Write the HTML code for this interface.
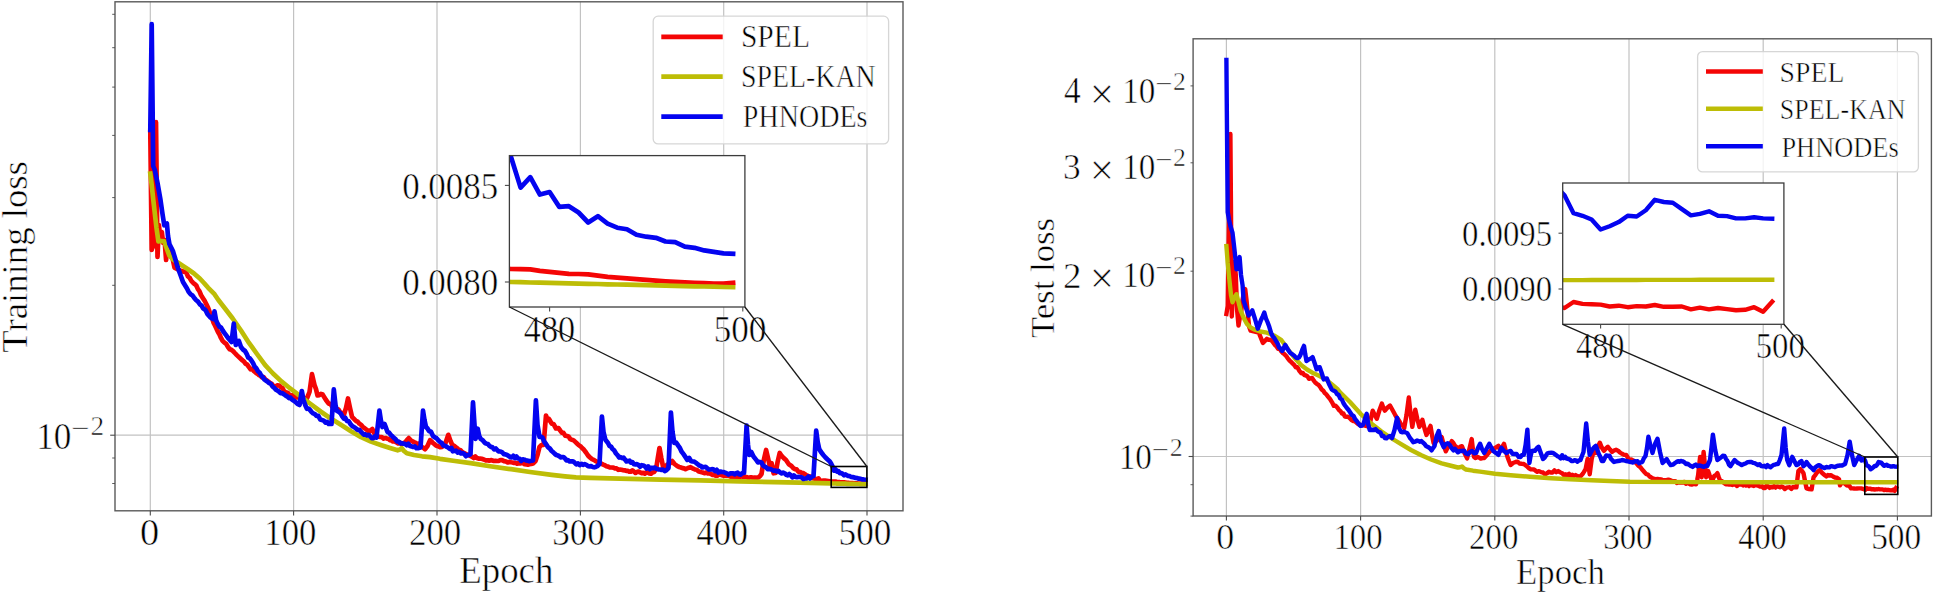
<!DOCTYPE html>
<html lang="en"><head><meta charset="utf-8"><title>Training and test loss</title>
<style>html,body{margin:0;padding:0;background:#fff;}body{width:1933px;height:592px;overflow:hidden;}svg{display:block;}</style>
</head><body>
<svg width="1933" height="592" viewBox="0 0 1933 592" font-family="'Liberation Serif', serif" fill="#000">
<style>text{stroke:#fff;stroke-width:0.55px;paint-order:fill stroke;}</style>
<defs>
<clipPath id="cl"><rect x="115.0" y="1.8" width="788.0" height="509.0"/></clipPath>
<clipPath id="cli"><rect x="509.4" y="155.6" width="235.5" height="151.4"/></clipPath>
<clipPath id="cr"><rect x="1193.1" y="38.8" width="738.3" height="477.2"/></clipPath>
<clipPath id="cri"><rect x="1562.7" y="183.0" width="221.2" height="141.3"/></clipPath>
</defs>
<rect width="1933" height="592" fill="#fff"/>
<line x1="150.3" y1="1.8" x2="150.3" y2="510.8" stroke="#c2c2c2" stroke-width="1.2" />
<line x1="293.6" y1="1.8" x2="293.6" y2="510.8" stroke="#c2c2c2" stroke-width="1.2" />
<line x1="437.0" y1="1.8" x2="437.0" y2="510.8" stroke="#c2c2c2" stroke-width="1.2" />
<line x1="580.4" y1="1.8" x2="580.4" y2="510.8" stroke="#c2c2c2" stroke-width="1.2" />
<line x1="723.7" y1="1.8" x2="723.7" y2="510.8" stroke="#c2c2c2" stroke-width="1.2" />
<line x1="867.0" y1="1.8" x2="867.0" y2="510.8" stroke="#c2c2c2" stroke-width="1.2" />
<line x1="115.0" y1="435.2" x2="903.0" y2="435.2" stroke="#c2c2c2" stroke-width="1.2" />
<polyline points="150.3,132.0 151.7,250.0 153.2,244.0 154.6,246.0 156.0,122.2 157.5,257.0 158.9,225.0 160.3,238.0 161.8,232.0 163.2,243.0 164.6,240.0 166.1,260.0 167.5,243.0 168.9,246.0 170.4,250.0 172.5,258.0 174.5,267.6 180.0,270.5 186.3,272.6 188.0,276.5 189.7,277.8 191.4,281.0 193.0,282.7 194.7,284.1 196.3,285.5 197.9,289.1 199.4,291.1 201.0,295.0 202.8,297.9 204.6,300.8 206.4,304.3 208.2,308.1 210.0,313.0 211.8,317.3 213.5,322.6 215.0,325.5 216.5,328.7 218.0,332.0 219.5,334.5 221.1,338.2 222.6,340.9 224.4,342.6 226.2,343.9 228.0,347.0 229.7,349.2 231.4,349.8 233.1,351.1 234.8,353.0 236.6,354.9 238.4,356.6 240.2,358.3 242.0,360.0 243.8,361.3 245.5,363.7 247.2,364.6 249.0,367.2 250.6,369.3 252.2,369.0 253.8,370.9 255.4,372.3 257.0,373.5 258.6,374.8 260.3,375.7 261.9,377.3 263.6,377.1 265.2,379.4 266.8,380.5 268.4,381.6 270.0,383.0 271.8,383.9 273.5,386.1 275.3,386.5 277.4,385.4 279.4,385.5 280.9,387.2 282.5,388.1 284.0,391.0 285.8,392.4 287.7,392.7 289.5,395.0 292.2,395.5 293.8,395.1 295.3,397.6 296.9,397.3 298.4,397.4 300.0,398.0 301.6,398.4 303.2,397.9 304.8,398.5 306.4,399.6 307.9,396.0 309.5,392.0 312.0,374.2 314.5,385.0 316.0,389.1 317.5,395.5 319.2,395.2 320.9,393.8 322.6,394.5 324.3,397.2 326.0,400.0 328.7,403.6 330.5,404.0 332.2,406.8 334.0,407.0 335.5,408.7 337.0,409.1 338.5,409.6 340.0,412.0 341.9,412.9 343.9,414.8 346.0,408.0 348.0,398.5 350.0,408.0 352.0,416.8 354.0,418.8 356.0,421.0 357.7,421.7 359.4,423.7 361.1,424.9 363.1,427.2 365.0,428.5 367.1,430.1 369.2,432.0 370.8,430.2 372.3,429.0 373.8,432.4 375.3,435.0 376.9,435.4 378.4,436.7 380.0,437.0 381.8,437.1 383.7,438.6 385.5,438.1 387.0,438.6 388.5,438.8 390.0,440.1 391.5,440.4 393.0,441.5 394.7,441.4 396.5,442.4 398.2,443.5 400.0,442.6 401.7,444.2 403.6,443.0 405.5,442.0 407.1,439.9 408.8,438.1 411.0,440.5 413.9,442.1 415.4,442.7 416.9,444.0 418.5,443.6 420.0,445.2 421.7,446.8 423.3,447.7 425.0,449.2 427.5,446.0 430.1,440.1 433.0,443.0 434.5,444.2 436.0,445.5 438.0,446.2 440.0,447.2 442.2,446.9 443.9,444.7 445.5,443.0 448.3,434.8 450.5,441.0 452.3,444.9 454.1,445.8 456.0,447.5 457.5,448.5 458.9,450.3 460.4,450.0 461.9,451.7 463.5,452.7 465.0,453.5 466.9,454.6 468.7,454.9 470.6,456.1 472.2,456.8 473.7,458.0 475.3,456.5 476.9,458.1 478.4,458.6 480.0,458.5 481.6,458.8 483.1,459.3 484.7,459.9 486.2,460.5 487.8,460.3 489.3,460.7 490.9,460.1 492.4,460.5 493.9,461.0 495.5,460.8 497.0,461.0 498.7,460.8 500.3,460.1 502.0,460.1 504.0,461.1 506.0,461.5 507.7,462.5 509.4,461.8 511.1,462.2 512.6,462.5 514.1,462.9 515.5,462.8 517.0,463.6 518.5,463.4 520.0,463.5 521.6,462.9 523.1,463.1 524.7,464.2 526.3,464.3 527.8,464.7 529.4,464.2 531.2,464.0 533.0,463.5 535.5,461.1 537.5,455.0 539.5,446.9 541.5,445.0 543.6,444.9 544.8,430.0 546.0,415.5 547.5,420.0 549.0,419.0 551.7,423.6 553.5,424.0 556.0,428.5 558.5,428.0 560.1,430.4 561.8,432.7 563.5,432.9 565.3,435.7 567.0,436.0 568.7,436.7 570.3,439.1 572.0,439.8 573.7,440.4 575.3,441.9 577.0,443.5 578.7,445.1 580.4,446.2 582.1,448.0 584.0,449.8 586.0,452.5 588.0,455.5 590.0,457.5 592.1,459.2 594.2,460.1 596.1,461.4 598.1,462.2 600.0,463.5 601.6,463.7 603.2,464.6 604.8,465.2 606.4,466.2 608.1,466.6 609.8,467.5 611.6,467.5 613.3,467.6 615.0,468.5 616.6,468.4 618.2,469.8 619.8,469.5 621.4,469.8 623.0,470.1 624.6,470.3 626.1,470.8 627.7,470.8 629.2,471.6 630.8,471.6 632.4,470.3 633.9,471.5 635.5,472.9 637.0,472.0 638.6,471.5 640.1,472.4 641.7,473.2 643.2,472.8 644.8,473.7 646.3,472.4 647.9,472.6 649.4,473.4 651.0,473.7 652.5,472.4 654.0,472.0 656.1,469.2 657.8,458.0 659.5,448.0 661.3,458.0 663.2,467.2 666.0,466.0 667.5,464.4 669.0,464.0 670.6,462.9 672.3,461.1 674.5,464.0 677.4,466.2 679.2,467.0 681.0,467.5 682.5,468.1 684.0,468.4 685.5,469.2 688.0,468.0 690.5,467.2 692.0,468.1 693.5,468.7 695.0,469.5 696.7,469.8 698.4,471.2 700.0,471.8 701.7,472.3 703.2,472.6 704.8,473.2 706.4,472.5 707.9,473.4 709.5,473.4 711.0,474.0 712.6,474.9 714.1,474.7 715.7,475.7 717.3,475.6 718.9,474.7 720.4,474.5 722.0,475.3 723.7,475.8 725.3,475.5 727.0,475.8 728.7,475.5 730.3,476.6 732.0,476.5 733.6,476.7 735.2,476.9 736.8,477.0 738.4,476.4 740.0,477.0 741.7,476.0 743.3,477.0 745.0,476.9 746.7,477.0 748.3,477.9 750.0,477.4 751.7,477.3 753.4,478.2 755.0,477.5 756.7,477.8 758.4,477.4 760.0,476.0 761.5,474.0 763.8,460.0 766.1,450.0 768.0,458.0 769.6,465.2 771.6,463.2 773.6,473.3 775.6,473.0 777.6,462.0 779.7,453.0 781.7,456.0 783.8,458.1 786.0,460.0 788.8,464.2 791.5,466.0 793.2,468.0 794.9,469.2 796.6,469.4 798.3,471.7 800.0,472.0 801.7,472.8 803.3,473.0 805.0,474.3 806.7,475.4 808.3,476.0 810.0,476.5 811.7,478.0 813.5,478.4 815.2,478.8 816.8,479.3 818.5,478.5 820.1,480.6 821.7,480.8 823.4,480.6 825.0,480.5 831.2,481.6 832.6,481.7 834.1,481.7 835.5,481.7 836.9,481.9 838.4,482.0 839.8,482.2 841.2,482.3 842.7,482.3 844.1,482.4 845.5,482.6 847.0,482.8 848.4,482.9 849.8,483.0 851.3,483.1 852.7,483.2 854.1,483.3 855.6,483.4 857.0,483.4 858.4,483.5 859.9,483.6 861.3,483.6 862.7,483.7 864.2,483.7 865.6,483.6" fill="none" stroke="#f40505" stroke-width="4.7" stroke-linejoin="round" stroke-linecap="square" clip-path="url(#cl)"/>
<polyline points="150.3,173.5 151.7,185.0 153.3,200.0 155.0,215.0 156.5,228.0 158.4,241.4 161.0,241.0 164.3,241.4 166.5,248.0 169.4,255.7 173.0,259.5 177.8,262.5 183.0,266.0 188.0,269.3 194.0,273.5 199.8,278.5 204.0,283.0 208.2,287.8 214.5,294.2 218.4,300.0 225.0,308.5 232.7,318.5 241.0,330.5 249.0,342.9 257.0,354.0 265.2,365.2 273.0,373.5 281.4,381.4 289.0,387.5 297.6,394.2 300.3,396.0 310.0,403.5 320.6,411.5 330.0,418.0 340.9,424.7 351.0,431.2 361.1,437.2 371.0,441.6 381.4,445.2 390.0,448.0 397.6,450.3 400.0,449.5 401.7,448.2 404.0,451.0 406.8,453.3 414.0,455.0 422.0,456.3 430.0,457.1 440.0,458.8 455.0,461.0 470.6,463.2 490.0,466.3 511.1,469.2 530.0,472.0 551.7,474.9 565.0,476.4 576.0,477.4 590.0,477.9 620.0,478.6 661.1,479.6 700.0,480.4 740.0,481.3 800.0,482.6 831.2,483.4 832.6,483.5 834.1,483.5 835.5,483.5 836.9,483.6 838.4,483.6 839.8,483.6 841.2,483.7 842.7,483.7 844.1,483.7 845.5,483.7 847.0,483.8 848.4,483.8 849.8,483.8 851.3,483.9 852.7,483.9 854.1,483.9 855.6,484.0 857.0,484.0 858.4,484.0 859.9,484.1 861.3,484.1 862.7,484.1 864.2,484.2 865.6,484.2" fill="none" stroke="#bdbd06" stroke-width="4.7" stroke-linejoin="round" stroke-linecap="square" clip-path="url(#cl)"/>
<polyline points="150.3,130.0 151.7,24.2 153.2,166.0 154.8,170.0 157.5,183.0 160.5,200.0 162.5,214.0 164.3,225.3 166.9,223.6 168.0,236.0 169.4,244.0 172.8,250.7 175.0,258.0 177.8,267.6 180.5,275.0 183.0,282.0 187.0,288.5 188.7,291.8 190.5,294.2 192.2,295.2 194.1,297.7 196.0,300.0 198.0,301.6 200.0,304.5 201.5,305.4 203.0,308.2 204.5,309.2 205.9,310.7 207.4,314.0 208.9,315.8 210.4,317.5 213.0,319.0 214.5,311.4 216.0,320.0 217.5,323.6 219.3,326.5 221.2,327.8 223.0,331.0 224.9,333.6 226.8,336.1 228.7,338.8 231.5,342.0 233.8,323.6 235.8,345.0 237.3,341.7 238.8,340.9 241.0,347.0 243.0,349.5 245.0,351.0 246.6,353.7 248.2,357.5 249.8,358.4 251.4,360.5 253.0,363.0 254.6,366.5 256.2,368.1 257.9,371.2 259.5,372.5 261.1,375.3 262.7,377.0 264.3,379.3 265.8,380.5 267.4,381.6 269.0,383.0 270.7,383.6 272.4,386.4 274.0,387.6 275.7,389.6 277.4,390.5 278.9,391.5 280.5,393.1 282.0,393.0 283.8,394.2 285.7,395.6 287.5,396.6 289.0,398.1 290.5,397.6 292.0,399.5 293.8,400.7 295.7,402.1 297.5,404.0 299.5,405.0 301.8,391.0 303.5,400.0 305.4,405.6 306.9,408.8 308.5,408.5 310.0,410.0 311.6,412.0 313.2,413.4 314.9,414.1 316.5,415.8 318.3,415.9 320.2,419.4 322.0,420.0 323.7,420.6 325.4,422.6 327.0,421.8 328.7,423.9 331.5,424.0 333.8,389.4 335.5,405.0 336.8,410.7 338.9,411.9 340.9,413.8 342.4,416.6 343.9,418.6 345.4,418.0 346.9,420.9 348.7,421.3 350.4,423.9 352.2,426.1 354.0,427.0 355.8,428.4 357.6,429.8 359.3,429.9 361.1,432.0 362.6,433.4 364.1,434.7 365.5,434.3 367.0,435.5 368.6,434.9 370.1,436.2 371.7,438.1 373.3,438.1 374.9,436.3 376.5,437.5 379.4,410.7 381.0,421.0 382.4,427.0 384.5,423.9 386.0,427.9 387.5,432.0 389.1,432.7 390.8,434.9 392.4,436.3 394.0,438.0 395.5,439.1 397.1,441.4 398.6,441.5 400.2,443.3 401.7,443.2 403.4,443.6 405.0,443.9 406.7,445.2 408.3,443.7 410.0,446.0 411.6,446.4 413.2,447.0 414.8,446.3 416.4,448.2 418.0,448.2 420.5,447.5 423.0,410.7 424.5,420.0 426.0,427.0 427.5,428.5 429.0,431.0 431.0,431.8 433.0,436.0 434.8,437.3 436.5,438.2 438.2,440.1 440.0,442.0 441.8,443.1 443.5,445.6 445.2,445.8 447.0,447.0 448.5,447.8 449.9,448.9 451.4,447.9 452.8,451.3 454.3,451.0 456.0,450.7 457.6,452.6 459.3,451.9 461.0,453.5 462.6,453.0 464.2,453.9 465.9,456.2 467.5,455.0 469.0,455.1 470.5,454.0 473.0,402.3 474.5,425.0 475.6,438.8 477.7,428.7 479.2,436.0 480.7,438.8 482.9,440.4 485.0,443.0 486.5,443.7 487.9,444.0 489.4,445.9 490.9,446.9 492.5,447.3 494.1,449.4 495.8,448.5 497.4,450.3 499.0,451.5 500.6,451.5 502.2,452.3 503.9,454.2 505.5,454.4 507.1,455.0 508.7,456.0 510.2,457.0 511.8,457.5 513.3,455.8 514.9,458.0 516.4,456.5 518.0,458.5 519.6,458.8 521.3,460.9 522.9,459.4 524.5,459.7 526.1,460.5 527.8,460.7 529.4,461.1 531.2,460.8 533.0,460.5 535.9,400.3 537.5,425.0 539.5,436.8 541.0,436.7 542.6,437.8 544.3,441.8 546.0,444.0 547.9,447.1 549.8,448.5 551.7,451.0 553.2,452.3 554.6,453.6 556.1,454.9 557.5,455.3 559.0,456.0 560.5,457.3 562.0,457.1 563.5,457.1 564.9,458.3 566.4,460.3 567.9,460.1 569.6,461.5 571.3,461.4 573.0,461.3 574.6,462.6 576.3,464.3 578.0,463.5 579.7,465.1 581.4,463.8 583.0,464.8 584.7,464.1 586.4,464.8 588.1,466.2 589.6,466.4 591.1,466.2 592.7,467.0 594.2,467.3 595.7,466.9 597.2,466.2 599.5,464.0 601.9,416.5 603.5,432.0 605.4,439.8 608.0,443.0 609.5,446.1 611.0,446.5 612.5,449.0 614.2,450.3 616.0,453.5 617.5,455.1 619.1,457.6 620.6,457.1 622.1,458.2 623.6,457.7 625.0,459.6 626.5,461.4 628.0,461.0 629.5,460.7 630.9,462.7 632.4,462.1 633.9,464.2 635.3,464.3 636.8,464.2 638.4,464.9 640.1,466.8 641.7,465.2 643.4,465.5 645.0,466.5 646.6,468.4 648.2,466.4 649.8,469.2 651.4,467.8 653.0,468.2 654.8,467.6 656.5,468.8 658.2,469.3 660.0,469.5 661.5,469.9 663.1,469.7 664.7,471.0 666.2,470.3 668.5,468.0 670.9,412.5 672.5,432.0 674.3,442.9 676.3,442.7 678.4,445.9 680.0,448.2 681.5,451.5 683.5,454.1 685.5,457.1 687.3,459.9 689.2,458.0 691.0,461.0 692.6,461.5 694.3,461.6 696.0,462.8 697.6,464.2 699.2,465.4 700.8,465.9 702.4,467.5 704.0,467.0 705.6,466.9 707.1,468.1 708.7,469.3 710.2,469.5 711.8,469.2 713.4,469.4 715.1,471.1 716.7,469.8 718.4,472.6 720.0,471.5 721.7,471.9 723.4,472.0 725.0,472.6 726.7,473.4 728.4,474.5 730.1,473.3 731.6,473.3 733.1,473.3 734.6,474.3 736.1,473.2 737.6,472.7 739.1,474.3 740.7,474.6 742.4,473.1 744.0,473.0 746.6,425.6 748.0,445.0 749.3,455.0 751.3,452.0 753.5,456.5 756.4,460.1 758.0,462.4 759.7,461.9 761.4,462.4 763.0,465.5 764.5,466.5 766.0,467.1 767.6,469.1 769.1,468.9 770.6,469.2 772.2,470.0 773.7,470.8 775.3,470.5 776.9,471.5 778.4,470.8 780.0,472.5 781.6,473.3 783.1,472.6 784.7,473.3 786.2,474.7 787.8,475.3 789.3,474.0 790.9,475.3 792.4,477.3 793.9,475.4 795.5,476.9 797.0,477.2 798.5,476.9 800.0,477.0 801.7,477.4 803.4,479.0 805.0,478.5 806.7,478.3 808.4,476.6 810.1,478.4 811.8,476.6 813.5,476.0 816.2,430.7 817.7,442.0 819.2,449.0 821.0,452.0 823.3,455.0 825.5,457.5 827.6,459.5 829.8,461.5 831.2,463.8 832.6,466.6 834.1,470.6 835.5,469.3 836.9,471.6 838.4,471.2 839.8,473.2 841.2,473.1 842.7,473.9 844.1,475.3 845.5,474.4 847.0,475.4 848.4,476.0 849.8,476.2 851.3,477.0 852.7,477.2 854.1,477.4 855.6,477.9 857.0,478.0 858.4,478.6 859.9,478.7 861.3,479.1 862.7,479.3 864.2,479.5 865.6,479.6" fill="none" stroke="#0404f0" stroke-width="4.7" stroke-linejoin="round" stroke-linecap="square" clip-path="url(#cl)"/>
<rect x="831.2" y="466.5" width="35.7" height="20.9" fill="none" stroke="#000" stroke-width="1.6"/>
<rect x="115.0" y="1.8" width="788.0" height="509.0" fill="none" stroke="#5a5a5a" stroke-width="1.4"/>
<line x1="150.3" y1="510.8" x2="150.3" y2="515.6" stroke="#4a4a4a" stroke-width="1.1" />
<line x1="293.6" y1="510.8" x2="293.6" y2="515.6" stroke="#4a4a4a" stroke-width="1.1" />
<line x1="437.0" y1="510.8" x2="437.0" y2="515.6" stroke="#4a4a4a" stroke-width="1.1" />
<line x1="580.4" y1="510.8" x2="580.4" y2="515.6" stroke="#4a4a4a" stroke-width="1.1" />
<line x1="723.7" y1="510.8" x2="723.7" y2="515.6" stroke="#4a4a4a" stroke-width="1.1" />
<line x1="867.0" y1="510.8" x2="867.0" y2="515.6" stroke="#4a4a4a" stroke-width="1.1" />
<line x1="110.2" y1="435.2" x2="115.0" y2="435.2" stroke="#4a4a4a" stroke-width="1.1" />
<line x1="112.2" y1="483.5" x2="115.0" y2="483.5" stroke="#4a4a4a" stroke-width="0.9" />
<line x1="112.2" y1="458.0" x2="115.0" y2="458.0" stroke="#4a4a4a" stroke-width="0.9" />
<line x1="112.2" y1="285.3" x2="115.0" y2="285.3" stroke="#4a4a4a" stroke-width="0.9" />
<line x1="112.2" y1="197.6" x2="115.0" y2="197.6" stroke="#4a4a4a" stroke-width="0.9" />
<line x1="112.2" y1="135.4" x2="115.0" y2="135.4" stroke="#4a4a4a" stroke-width="0.9" />
<line x1="112.2" y1="87.1" x2="115.0" y2="87.1" stroke="#4a4a4a" stroke-width="0.9" />
<line x1="112.2" y1="47.7" x2="115.0" y2="47.7" stroke="#4a4a4a" stroke-width="0.9" />
<line x1="112.2" y1="14.3" x2="115.0" y2="14.3" stroke="#4a4a4a" stroke-width="0.9" />
<rect x="509.4" y="155.6" width="235.5" height="151.4" fill="#fff"/>
<polyline points="501.3,268.7 511.0,269.0 520.6,269.2 530.3,269.4 539.9,270.8 549.6,271.8 559.3,272.8 568.9,273.8 578.6,274.0 588.2,274.4 597.9,275.7 607.6,276.9 617.2,277.6 626.9,278.4 636.5,279.1 646.2,279.9 655.9,280.7 665.5,281.3 675.2,281.8 684.8,282.3 694.5,282.8 704.2,283.2 713.8,283.7 723.5,283.5 733.1,282.8" fill="none" stroke="#f40505" stroke-width="4.7" stroke-linejoin="round" stroke-linecap="square" clip-path="url(#cli)"/>
<polyline points="501.3,281.8 511.0,282.0 520.6,282.2 530.3,282.5 539.9,282.7 549.6,282.9 559.3,283.1 568.9,283.4 578.6,283.6 588.2,283.8 597.9,284.0 607.6,284.3 617.2,284.5 626.9,284.7 636.5,284.9 646.2,285.2 655.9,285.4 665.5,285.6 675.2,285.8 684.8,286.1 694.5,286.3 704.2,286.5 713.8,286.7 723.5,287.0 733.1,287.2" fill="none" stroke="#bdbd06" stroke-width="4.7" stroke-linejoin="round" stroke-linecap="square" clip-path="url(#cli)"/>
<polyline points="501.3,134.6 511.0,157.0 520.6,187.6 530.3,177.2 539.9,194.6 549.6,192.0 559.3,206.9 568.9,206.2 578.6,212.5 588.2,222.5 597.9,216.2 607.6,223.6 617.2,227.7 626.9,229.2 636.5,234.8 646.2,236.7 655.9,237.8 665.5,241.5 675.2,242.2 684.8,246.7 694.5,247.8 704.2,250.4 713.8,251.9 723.5,253.4 733.1,253.8" fill="none" stroke="#0404f0" stroke-width="4.7" stroke-linejoin="round" stroke-linecap="square" clip-path="url(#cli)"/>
<rect x="509.4" y="155.6" width="235.5" height="151.4" fill="none" stroke="#3c3c3c" stroke-width="1.3"/>
<line x1="549.6" y1="307.0" x2="549.6" y2="311.5" stroke="#4a4a4a" stroke-width="1.1" />
<line x1="742.8" y1="307.0" x2="742.8" y2="311.5" stroke="#4a4a4a" stroke-width="1.1" />
<line x1="504.9" y1="185.4" x2="509.4" y2="185.4" stroke="#4a4a4a" stroke-width="1.1" />
<line x1="504.9" y1="282.0" x2="509.4" y2="282.0" stroke="#4a4a4a" stroke-width="1.1" />
<rect x="653.2" y="16.2" width="235.4" height="127.7" rx="5" ry="5" fill="#fff" fill-opacity="0.8" stroke="#d2d2d2" stroke-opacity="0.9" stroke-width="1.3"/>
<line x1="661.3" y1="36.9" x2="722.7" y2="36.9" stroke="#f40505" stroke-width="4.7" />
<line x1="661.3" y1="76.7" x2="722.7" y2="76.7" stroke="#bdbd06" stroke-width="4.7" />
<line x1="661.3" y1="116.6" x2="722.7" y2="116.6" stroke="#0404f0" stroke-width="4.7" />
<line x1="1226.4" y1="38.8" x2="1226.4" y2="516.0" stroke="#c2c2c2" stroke-width="1.2" />
<line x1="1360.6" y1="38.8" x2="1360.6" y2="516.0" stroke="#c2c2c2" stroke-width="1.2" />
<line x1="1494.8" y1="38.8" x2="1494.8" y2="516.0" stroke="#c2c2c2" stroke-width="1.2" />
<line x1="1629.0" y1="38.8" x2="1629.0" y2="516.0" stroke="#c2c2c2" stroke-width="1.2" />
<line x1="1763.2" y1="38.8" x2="1763.2" y2="516.0" stroke="#c2c2c2" stroke-width="1.2" />
<line x1="1897.4" y1="38.8" x2="1897.4" y2="516.0" stroke="#c2c2c2" stroke-width="1.2" />
<line x1="1193.1" y1="456.5" x2="1931.4" y2="456.5" stroke="#c2c2c2" stroke-width="1.2" />
<polyline points="1226.4,314.0 1227.7,306.0 1229.1,210.0 1230.4,134.0 1231.8,316.5 1233.1,290.0 1234.5,262.0 1235.8,275.0 1237.1,310.0 1238.5,325.6 1239.8,318.0 1241.2,312.0 1242.5,300.0 1243.9,293.0 1245.2,289.0 1246.5,300.0 1247.9,315.0 1249.2,327.0 1250.6,330.7 1258.8,332.7 1262.9,342.9 1264.9,340.9 1266.9,338.8 1268.6,339.9 1270.3,339.8 1272.0,340.9 1273.5,342.9 1275.0,345.0 1276.5,346.3 1278.1,348.9 1279.6,348.6 1281.1,351.0 1282.7,352.9 1284.3,354.1 1286.0,355.8 1287.6,358.1 1289.2,360.1 1290.8,361.7 1292.5,363.3 1294.1,364.8 1295.8,367.4 1297.4,367.2 1299.4,370.9 1301.4,373.3 1302.9,372.9 1304.5,375.2 1306.0,375.5 1307.5,376.4 1309.0,378.8 1310.5,378.4 1312.1,378.0 1313.6,380.4 1315.2,382.5 1316.8,383.8 1318.5,384.9 1320.1,386.9 1321.7,389.5 1323.3,390.8 1324.9,393.2 1326.6,394.7 1328.2,396.9 1329.8,398.7 1332.2,402.6 1333.9,405.9 1335.6,405.7 1337.3,407.5 1339.0,410.0 1340.5,411.2 1342.0,413.6 1343.4,413.5 1344.9,416.6 1346.4,416.8 1348.1,416.8 1349.7,418.1 1351.3,419.9 1353.0,421.0 1354.5,421.1 1356.0,422.1 1357.6,423.7 1359.1,424.7 1360.6,424.9 1362.4,425.4 1364.2,425.4 1366.0,426.0 1367.8,426.5 1369.7,424.9 1371.2,417.0 1372.7,410.7 1374.7,415.0 1376.8,418.8 1379.5,410.0 1381.9,403.6 1383.4,408.0 1384.9,410.7 1387.5,407.5 1390.0,405.6 1392.5,410.0 1395.1,414.8 1396.6,417.4 1398.0,419.1 1399.5,421.5 1401.1,424.6 1402.6,425.1 1404.2,428.0 1406.5,415.0 1408.8,397.5 1410.5,413.0 1412.3,426.9 1413.8,418.0 1415.3,409.7 1417.3,419.0 1419.4,426.9 1420.9,423.5 1422.4,419.8 1424.4,428.0 1426.5,435.0 1428.5,430.0 1430.5,425.9 1432.0,435.0 1433.6,443.2 1435.5,442.1 1437.5,440.0 1439.6,438.5 1441.7,437.1 1443.7,445.0 1445.8,451.3 1447.3,448.2 1448.8,446.0 1450.3,443.8 1451.8,441.1 1453.3,442.9 1454.8,445.5 1456.3,446.9 1457.9,449.2 1460.0,446.9 1462.0,446.2 1464.5,453.0 1467.1,458.4 1469.4,449.0 1471.7,439.1 1473.0,450.0 1474.0,456.9 1475.7,458.1 1477.3,456.9 1479.0,457.5 1480.7,458.6 1482.5,458.1 1484.2,458.0 1487.0,455.0 1488.7,452.7 1490.3,450.9 1492.2,450.2 1494.0,448.5 1495.5,447.8 1496.9,446.8 1498.4,445.8 1500.4,450.9 1502.2,447.0 1504.0,443.8 1505.8,451.0 1507.5,456.9 1509.0,461.0 1510.6,465.0 1513.0,463.0 1515.6,462.0 1517.5,461.6 1519.5,463.5 1521.7,463.8 1523.8,464.0 1526.5,466.0 1528.8,468.1 1530.5,469.3 1532.3,469.4 1534.0,469.5 1535.7,470.8 1537.3,471.8 1539.0,471.1 1541.0,472.1 1543.0,472.5 1545.0,474.4 1547.1,473.2 1548.9,471.8 1550.7,472.5 1552.5,472.5 1554.4,470.4 1556.3,472.2 1558.2,471.1 1560.3,472.4 1562.5,473.5 1564.1,475.4 1565.8,474.3 1567.4,475.2 1569.1,473.8 1570.7,476.6 1572.3,474.7 1574.0,476.0 1575.6,475.0 1577.2,476.0 1578.9,476.7 1580.5,476.2 1583.0,473.5 1585.6,469.1 1587.6,459.0 1589.7,474.2 1591.7,459.0 1593.7,450.9 1595.8,452.9 1597.8,447.0 1599.8,442.7 1601.8,447.5 1603.9,450.9 1605.9,448.5 1607.9,446.8 1610.0,449.5 1612.0,451.9 1614.0,450.5 1616.0,449.8 1618.0,450.7 1620.0,452.5 1622.1,453.8 1624.2,454.9 1626.2,454.9 1628.1,458.0 1629.6,460.1 1631.2,459.4 1632.7,460.3 1634.2,461.0 1637.0,464.0 1638.7,466.0 1640.3,467.1 1641.9,469.2 1643.5,471.0 1645.0,472.8 1646.4,474.2 1648.0,474.6 1649.5,476.5 1651.0,477.3 1652.5,478.2 1654.2,478.8 1655.9,479.6 1657.6,478.9 1659.3,479.3 1661.0,479.5 1662.6,479.9 1664.2,480.2 1665.8,480.1 1667.5,479.8 1669.1,479.8 1670.7,480.3 1672.2,481.5 1673.8,481.1 1675.3,481.1 1676.8,483.0 1678.4,482.4 1679.9,482.6 1681.5,482.3 1683.0,482.5 1684.5,481.9 1685.9,483.8 1687.4,483.0 1688.8,483.3 1690.3,484.3 1691.7,484.5 1693.2,484.1 1694.6,484.1 1696.1,484.3 1697.2,480.0 1698.1,475.2 1699.1,466.0 1700.1,456.9 1700.9,467.0 1701.7,477.2 1702.7,464.0 1703.6,451.9 1704.9,465.0 1706.2,477.2 1707.2,474.0 1708.2,471.1 1709.7,475.5 1711.3,479.2 1712.8,479.2 1714.3,476.0 1715.8,475.1 1717.4,473.2 1718.9,477.5 1720.4,481.3 1722.2,481.3 1724.0,483.0 1725.8,484.3 1727.5,484.3 1729.1,484.5 1730.8,484.4 1732.4,485.0 1734.0,484.5 1735.5,484.6 1737.1,486.0 1738.6,484.5 1740.2,484.5 1741.7,484.3 1743.2,485.4 1744.6,484.2 1746.1,485.6 1747.6,484.9 1749.1,486.1 1750.5,484.6 1752.0,485.5 1753.7,486.0 1755.3,484.5 1757.0,485.5 1758.7,486.0 1760.3,486.6 1762.0,486.3 1763.5,488.0 1765.0,488.0 1766.5,485.6 1768.0,486.2 1769.5,487.9 1771.0,487.0 1772.5,487.4 1774.0,486.0 1775.5,487.6 1777.0,486.4 1778.5,486.6 1780.0,487.4 1781.6,486.4 1783.2,487.2 1784.8,489.0 1786.4,487.7 1788.0,487.4 1789.7,487.3 1791.4,489.0 1793.0,487.0 1794.7,487.3 1796.4,487.4 1797.4,479.0 1798.4,471.1 1800.4,469.1 1802.0,470.9 1803.5,473.2 1805.0,481.0 1806.5,488.4 1809.0,489.0 1811.6,489.4 1812.6,483.0 1813.6,477.2 1815.1,475.4 1816.6,473.0 1818.2,471.3 1819.7,470.1 1822.2,473.0 1824.8,475.2 1826.3,476.4 1827.8,475.0 1829.4,475.6 1830.9,475.2 1833.0,476.5 1835.0,477.5 1837.0,477.7 1839.0,479.2 1840.0,485.3 1841.5,483.0 1843.0,482.3 1845.0,483.9 1847.0,485.5 1849.0,485.3 1851.1,488.4 1852.6,488.4 1854.0,488.5 1855.5,488.6 1857.0,488.5 1859.0,488.4 1861.0,488.4 1863.9,489.2 1865.2,489.8 1866.5,488.1 1867.9,488.7 1869.2,488.7 1870.6,488.8 1871.9,489.4 1873.2,489.1 1874.6,489.6 1875.9,489.3 1877.3,489.4 1878.6,489.0 1880.0,489.4 1881.3,489.4 1882.6,489.4 1884.0,490.1 1885.3,489.7 1886.7,490.1 1888.0,489.8 1889.3,490.1 1890.7,490.4 1892.0,490.3 1893.4,489.6 1894.7,490.8 1896.1,488.0" fill="none" stroke="#f40505" stroke-width="4.4" stroke-linejoin="round" stroke-linecap="square" clip-path="url(#cr)"/>
<polyline points="1226.4,246.0 1227.7,263.0 1229.4,280.0 1231.0,295.0 1232.5,302.3 1234.5,297.5 1236.5,294.2 1238.5,302.0 1240.6,310.4 1243.5,317.5 1246.7,323.6 1250.5,327.5 1254.8,329.7 1260.0,331.5 1266.9,332.7 1274.0,335.5 1281.1,339.8 1285.0,345.0 1289.2,351.0 1295.0,358.5 1301.4,365.2 1307.0,369.5 1313.6,373.3 1319.5,376.0 1325.8,379.4 1332.0,384.5 1337.9,389.5 1340.3,392.5 1350.0,402.0 1360.6,413.8 1370.0,422.5 1380.9,431.0 1391.0,438.0 1401.1,444.2 1411.0,450.0 1421.4,455.3 1431.0,459.5 1441.7,463.4 1450.0,465.5 1457.9,467.5 1460.0,467.3 1462.0,466.5 1464.0,468.3 1466.0,469.5 1473.0,470.7 1480.0,471.6 1495.0,473.7 1510.6,475.2 1530.0,476.8 1551.1,478.2 1570.0,479.3 1591.7,480.3 1610.0,481.0 1630.0,481.7 1700.0,482.1 1780.0,482.3 1860.0,482.2 1863.9,482.3 1865.2,482.3 1866.5,482.3 1867.9,482.3 1869.2,482.3 1870.6,482.3 1871.9,482.3 1873.2,482.3 1874.6,482.3 1875.9,482.3 1877.3,482.3 1878.6,482.3 1880.0,482.3 1881.3,482.3 1882.6,482.2 1884.0,482.2 1885.3,482.2 1886.7,482.2 1888.0,482.2 1889.3,482.2 1890.7,482.2 1892.0,482.2 1893.4,482.2 1894.7,482.2 1896.1,482.2" fill="none" stroke="#bdbd06" stroke-width="4.4" stroke-linejoin="round" stroke-linecap="square" clip-path="url(#cr)"/>
<polyline points="1226.4,60.0 1227.7,212.0 1229.1,220.0 1230.4,226.0 1232.5,232.7 1234.5,250.0 1236.5,269.2 1238.0,262.0 1239.6,257.1 1241.0,275.0 1242.6,285.5 1243.6,300.3 1246.0,308.0 1248.7,315.5 1250.5,313.0 1252.3,310.4 1255.0,319.0 1257.8,328.7 1261.0,320.0 1262.7,316.3 1264.3,312.5 1265.9,318.3 1267.5,322.0 1269.2,326.6 1271.0,332.7 1272.7,336.3 1274.3,338.0 1276.0,341.0 1277.5,343.3 1279.1,347.5 1280.7,348.6 1282.2,351.0 1283.7,348.0 1285.2,344.9 1287.5,349.0 1290.3,353.0 1292.2,354.2 1294.0,355.5 1295.7,357.4 1297.4,358.1 1298.9,357.5 1300.4,355.0 1302.2,350.0 1304.0,345.9 1305.2,354.0 1306.5,361.1 1308.0,360.0 1309.5,359.0 1311.0,358.5 1312.6,357.1 1314.6,363.0 1316.6,369.2 1318.2,367.4 1319.7,367.2 1321.7,373.0 1323.7,379.4 1325.2,378.6 1326.8,378.4 1329.0,384.0 1331.8,389.5 1333.5,390.6 1335.3,391.4 1337.0,394.0 1338.7,395.0 1340.3,398.5 1341.9,399.5 1343.4,403.0 1345.0,405.5 1346.8,407.8 1348.6,410.0 1350.4,412.7 1351.9,414.9 1353.5,415.8 1355.0,419.0 1356.9,421.2 1358.7,423.8 1360.6,425.9 1362.0,425.6 1363.5,424.0 1365.1,418.2 1366.7,413.8 1368.2,424.0 1369.7,430.0 1371.8,429.7 1374.0,430.0 1375.6,429.1 1377.2,430.9 1378.8,432.0 1380.4,432.4 1382.0,436.0 1383.5,435.9 1384.9,438.1 1386.5,438.4 1388.0,437.0 1390.0,435.9 1392.0,438.1 1394.5,430.0 1397.1,417.8 1399.0,428.0 1401.1,432.0 1402.5,432.4 1404.0,431.5 1405.6,432.5 1407.2,433.0 1410.0,438.0 1411.7,439.9 1413.3,442.2 1415.2,441.7 1417.0,440.5 1418.5,441.1 1419.9,441.7 1421.4,441.1 1422.9,442.5 1424.5,443.9 1426.0,446.0 1427.9,446.9 1429.7,448.1 1431.6,450.3 1433.0,448.1 1434.5,446.0 1436.7,436.0 1438.7,431.0 1441.0,441.0 1443.7,447.2 1445.8,444.0 1447.8,443.2 1449.9,445.2 1452.0,448.5 1453.5,450.3 1455.0,448.9 1456.4,450.5 1457.9,452.3 1460.0,450.9 1462.0,451.0 1464.0,450.6 1466.0,453.5 1468.0,454.3 1470.0,452.0 1472.1,451.0 1474.2,453.3 1476.1,452.9 1478.0,448.0 1480.1,443.8 1482.0,449.0 1484.2,452.9 1487.0,448.0 1489.3,443.8 1491.5,448.0 1493.3,450.9 1496.0,453.0 1498.4,454.9 1499.9,451.1 1501.4,447.8 1504.0,451.0 1506.5,452.9 1508.5,451.5 1510.6,450.9 1512.5,453.8 1514.5,454.0 1516.6,453.9 1518.7,456.9 1520.4,457.1 1522.1,455.0 1523.8,454.9 1525.6,445.0 1527.4,429.6 1528.4,448.0 1529.4,463.0 1530.6,456.0 1531.9,450.9 1533.4,450.8 1534.9,450.9 1536.8,448.3 1538.6,446.8 1540.8,453.0 1543.0,459.0 1544.5,457.8 1546.0,455.5 1547.5,453.3 1549.1,452.9 1551.2,452.8 1553.2,452.9 1556.0,455.0 1557.6,456.2 1559.2,456.9 1560.7,458.4 1562.2,455.3 1563.8,458.1 1565.3,456.9 1566.9,458.7 1568.5,459.0 1570.0,459.6 1571.4,461.0 1572.9,461.1 1574.5,460.3 1576.0,460.5 1577.5,461.7 1579.0,460.3 1580.5,460.0 1582.0,455.8 1583.5,452.0 1586.2,423.5 1588.0,442.0 1589.7,454.9 1591.2,451.8 1592.8,449.0 1594.3,447.2 1595.8,445.8 1597.3,449.8 1598.8,454.0 1600.3,456.8 1601.8,461.0 1603.3,461.1 1604.8,458.0 1606.3,455.4 1607.9,455.9 1609.5,455.8 1611.0,459.0 1612.5,460.4 1614.0,462.0 1616.0,461.4 1618.0,461.0 1620.0,460.8 1622.1,460.0 1624.0,460.3 1626.0,461.0 1628.0,461.4 1630.0,462.0 1631.5,462.1 1633.0,462.5 1634.5,461.3 1636.0,461.5 1637.6,461.3 1639.2,463.3 1640.7,462.3 1642.3,462.0 1643.9,458.2 1645.5,456.0 1647.0,448.0 1648.4,436.7 1650.5,446.0 1652.5,452.9 1655.0,444.0 1657.5,438.7 1660.0,452.0 1662.6,463.0 1664.7,461.0 1666.7,459.0 1668.7,462.5 1670.7,465.1 1672.8,464.7 1675.0,463.0 1676.5,462.0 1678.0,461.1 1679.4,461.7 1680.9,461.0 1682.6,461.3 1684.3,462.2 1686.0,464.0 1687.7,463.7 1689.3,465.0 1691.0,466.1 1692.6,466.9 1694.2,465.5 1695.8,464.6 1697.4,466.2 1699.0,465.5 1700.6,465.7 1702.3,466.4 1703.9,466.8 1705.6,465.8 1707.2,466.1 1710.0,460.0 1711.5,447.2 1712.9,434.6 1715.2,450.0 1717.4,460.0 1719.2,458.7 1721.0,457.5 1722.8,455.8 1724.5,455.9 1726.0,459.0 1727.5,461.0 1729.0,464.6 1730.5,466.1 1732.5,463.0 1734.6,460.0 1736.3,461.6 1738.0,463.0 1739.8,463.9 1741.7,465.1 1743.6,464.1 1745.5,463.5 1747.7,462.1 1749.8,462.0 1751.4,462.0 1753.1,462.9 1754.7,463.1 1756.4,464.1 1758.0,465.0 1759.6,464.2 1761.2,466.1 1762.8,466.3 1764.4,465.8 1766.0,467.1 1767.5,465.2 1769.0,466.5 1770.5,467.2 1772.0,466.0 1773.5,464.9 1775.0,464.6 1776.6,464.0 1778.1,464.0 1779.8,460.0 1781.5,455.0 1784.2,428.5 1785.7,448.0 1787.2,460.0 1789.3,465.1 1790.8,460.3 1792.3,456.9 1794.3,461.0 1796.4,465.1 1798.1,464.5 1799.7,462.1 1801.4,461.0 1803.5,466.1 1805.0,464.8 1806.5,462.0 1808.2,464.3 1810.0,466.5 1811.8,468.1 1813.6,470.1 1815.3,467.3 1817.0,466.2 1818.7,465.1 1820.2,465.6 1821.8,467.1 1823.3,467.5 1824.8,468.1 1826.3,467.0 1827.8,467.4 1829.4,467.4 1830.9,466.1 1832.9,466.5 1834.9,467.1 1836.6,466.2 1838.3,465.7 1840.0,465.5 1841.7,465.6 1843.4,464.9 1845.1,464.0 1847.5,455.0 1849.7,441.7 1852.0,455.0 1854.2,465.1 1856.7,460.0 1859.2,455.9 1861.5,460.5 1863.9,458.6 1865.2,460.8 1866.5,465.2 1867.9,465.9 1869.2,466.8 1870.6,469.3 1871.9,468.5 1873.2,467.4 1874.6,465.9 1875.9,466.0 1877.3,464.5 1878.6,461.9 1880.0,462.5 1881.3,462.7 1882.6,464.2 1884.0,465.8 1885.3,465.4 1886.7,464.7 1888.0,465.9 1889.3,465.9 1890.7,466.5 1892.0,466.5 1893.4,466.2 1894.7,466.5 1896.1,466.6" fill="none" stroke="#0404f0" stroke-width="4.4" stroke-linejoin="round" stroke-linecap="square" clip-path="url(#cr)"/>
<rect x="1864.8" y="457.0" width="33.0" height="37.4" fill="none" stroke="#000" stroke-width="1.6"/>
<rect x="1193.1" y="38.8" width="738.3" height="477.2" fill="none" stroke="#5a5a5a" stroke-width="1.4"/>
<line x1="1226.4" y1="516.0" x2="1226.4" y2="520.5" stroke="#4a4a4a" stroke-width="1.1" />
<line x1="1360.6" y1="516.0" x2="1360.6" y2="520.5" stroke="#4a4a4a" stroke-width="1.1" />
<line x1="1494.8" y1="516.0" x2="1494.8" y2="520.5" stroke="#4a4a4a" stroke-width="1.1" />
<line x1="1629.0" y1="516.0" x2="1629.0" y2="520.5" stroke="#4a4a4a" stroke-width="1.1" />
<line x1="1763.2" y1="516.0" x2="1763.2" y2="520.5" stroke="#4a4a4a" stroke-width="1.1" />
<line x1="1897.4" y1="516.0" x2="1897.4" y2="520.5" stroke="#4a4a4a" stroke-width="1.1" />
<line x1="1188.6" y1="456.5" x2="1193.1" y2="456.5" stroke="#4a4a4a" stroke-width="1.1" />
<line x1="1190.5" y1="516.1" x2="1193.1" y2="516.1" stroke="#4a4a4a" stroke-width="0.9" />
<line x1="1190.5" y1="484.7" x2="1193.1" y2="484.7" stroke="#4a4a4a" stroke-width="0.9" />
<line x1="1190.5" y1="271.2" x2="1193.1" y2="271.2" stroke="#4a4a4a" stroke-width="0.9" />
<line x1="1190.5" y1="162.8" x2="1193.1" y2="162.8" stroke="#4a4a4a" stroke-width="0.9" />
<line x1="1190.5" y1="85.9" x2="1193.1" y2="85.9" stroke="#4a4a4a" stroke-width="0.9" />
<rect x="1562.7" y="183.0" width="221.2" height="141.3" fill="#fff"/>
<polyline points="1555.4,306.0 1564.5,308.0 1573.5,302.0 1582.5,303.9 1591.6,304.2 1600.6,304.6 1609.6,306.5 1618.7,305.7 1627.7,307.2 1636.7,306.1 1645.8,306.5 1654.8,305.0 1663.8,306.8 1672.8,306.8 1681.9,306.5 1690.9,309.4 1699.9,307.6 1709.0,309.4 1718.0,308.0 1727.0,309.1 1736.0,310.2 1745.1,309.8 1754.1,307.2 1763.1,311.7 1772.2,301.6" fill="none" stroke="#f40505" stroke-width="4.4" stroke-linejoin="round" stroke-linecap="square" clip-path="url(#cri)"/>
<polyline points="1555.4,280.1 1564.5,280.1 1573.5,280.1 1582.5,280.1 1591.6,280.0 1600.6,280.0 1609.6,280.0 1618.7,280.0 1627.7,280.0 1636.7,280.0 1645.8,279.9 1654.8,279.9 1663.8,279.9 1672.8,279.9 1681.9,279.9 1690.9,279.9 1699.9,279.8 1709.0,279.8 1718.0,279.8 1727.0,279.8 1736.0,279.8 1745.1,279.8 1754.1,279.7 1763.1,279.7 1772.2,279.7" fill="none" stroke="#bdbd06" stroke-width="4.4" stroke-linejoin="round" stroke-linecap="square" clip-path="url(#cri)"/>
<polyline points="1555.4,186.0 1564.5,195.3 1573.5,213.2 1582.5,215.8 1591.6,219.5 1600.6,229.5 1609.6,226.2 1618.7,222.1 1627.7,215.8 1636.7,216.5 1645.8,210.2 1654.8,199.8 1663.8,202.0 1672.8,202.8 1681.9,209.1 1690.9,215.4 1699.9,213.9 1709.0,211.3 1718.0,215.8 1727.0,216.1 1736.0,218.4 1745.1,218.4 1754.1,217.2 1763.1,218.4 1772.2,218.7" fill="none" stroke="#0404f0" stroke-width="4.4" stroke-linejoin="round" stroke-linecap="square" clip-path="url(#cri)"/>
<rect x="1562.7" y="183.0" width="221.2" height="141.3" fill="none" stroke="#3c3c3c" stroke-width="1.3"/>
<line x1="1600.6" y1="324.3" x2="1600.6" y2="328.5" stroke="#4a4a4a" stroke-width="1.1" />
<line x1="1781.2" y1="324.3" x2="1781.2" y2="328.5" stroke="#4a4a4a" stroke-width="1.1" />
<line x1="1558.5" y1="233.2" x2="1562.7" y2="233.2" stroke="#4a4a4a" stroke-width="1.1" />
<line x1="1558.5" y1="289.0" x2="1562.7" y2="289.0" stroke="#4a4a4a" stroke-width="1.1" />
<rect x="1697.6" y="51.6" width="220.8" height="120.3" rx="5" ry="5" fill="#fff" fill-opacity="0.8" stroke="#d2d2d2" stroke-opacity="0.9" stroke-width="1.3"/>
<line x1="1706.0" y1="71.5" x2="1762.8" y2="71.5" stroke="#f40505" stroke-width="4.4" />
<line x1="1706.0" y1="108.8" x2="1762.8" y2="108.8" stroke="#bdbd06" stroke-width="4.4" />
<line x1="1706.0" y1="146.3" x2="1762.8" y2="146.3" stroke="#0404f0" stroke-width="4.4" />
<text x="140.00" y="545.35" font-size="37.90" textLength="19.20" lengthAdjust="spacingAndGlyphs">0</text>
<text x="264.30" y="545.35" font-size="37.90" textLength="52.04" lengthAdjust="spacingAndGlyphs">100</text>
<text x="409.00" y="545.35" font-size="37.90" textLength="52.29" lengthAdjust="spacingAndGlyphs">200</text>
<text x="552.15" y="545.35" font-size="37.90" textLength="52.55" lengthAdjust="spacingAndGlyphs">300</text>
<text x="696.45" y="545.35" font-size="37.90" textLength="51.58" lengthAdjust="spacingAndGlyphs">400</text>
<text x="838.60" y="545.35" font-size="37.90" textLength="52.78" lengthAdjust="spacingAndGlyphs">500</text>
<text x="36.30" y="448.85" font-size="37.90" textLength="35.11" lengthAdjust="spacingAndGlyphs">10</text>
<text x="71.35" y="436.62" font-size="26.00" textLength="18.69" lengthAdjust="spacingAndGlyphs">−</text>
<text x="90.45" y="435.40" font-size="27.66" textLength="13.63" lengthAdjust="spacingAndGlyphs">2</text>
<text x="459.20" y="583.10" font-size="37.51" textLength="94.18" lengthAdjust="spacingAndGlyphs">Epoch</text>
<text x="402.15" y="198.80" font-size="37.53" textLength="95.98" lengthAdjust="spacingAndGlyphs">0.0085</text>
<text x="402.15" y="295.40" font-size="37.53" textLength="95.98" lengthAdjust="spacingAndGlyphs">0.0080</text>
<text x="523.85" y="341.95" font-size="37.92" textLength="51.25" lengthAdjust="spacingAndGlyphs">480</text>
<text x="713.70" y="341.95" font-size="37.92" textLength="52.66" lengthAdjust="spacingAndGlyphs">500</text>
<text x="740.90" y="47.35" font-size="30.94" textLength="69.13" lengthAdjust="spacingAndGlyphs">SPEL</text>
<text x="740.90" y="86.85" font-size="30.56" textLength="134.83" lengthAdjust="spacingAndGlyphs">SPEL-KAN</text>
<text x="742.85" y="127.15" font-size="30.94" textLength="124.56" lengthAdjust="spacingAndGlyphs">PHNODEs</text>
<text transform="translate(26.75,352.65) rotate(-90)" font-size="36.39" textLength="191.55" lengthAdjust="spacingAndGlyphs">Training loss</text>
<text x="1216.30" y="549.05" font-size="36.07" textLength="17.97" lengthAdjust="spacingAndGlyphs">0</text>
<text x="1333.40" y="549.05" font-size="36.07" textLength="49.18" lengthAdjust="spacingAndGlyphs">100</text>
<text x="1469.10" y="549.05" font-size="36.07" textLength="49.22" lengthAdjust="spacingAndGlyphs">200</text>
<text x="1603.30" y="549.05" font-size="36.07" textLength="49.22" lengthAdjust="spacingAndGlyphs">300</text>
<text x="1738.25" y="549.05" font-size="36.07" textLength="48.53" lengthAdjust="spacingAndGlyphs">400</text>
<text x="1871.20" y="549.05" font-size="36.07" textLength="49.98" lengthAdjust="spacingAndGlyphs">500</text>
<text x="1118.70" y="469.15" font-size="36.08" textLength="33.23" lengthAdjust="spacingAndGlyphs">10</text>
<text x="1151.85" y="457.93" font-size="24.50" textLength="17.56" lengthAdjust="spacingAndGlyphs">−</text>
<text x="1169.65" y="455.90" font-size="24.71" textLength="12.96" lengthAdjust="spacingAndGlyphs">2</text>
<text x="1063.95" y="103.20" font-size="36.89" textLength="16.76" lengthAdjust="spacingAndGlyphs">4</text>
<text x="1089.70" y="108.50" font-size="44.72" textLength="24.36" lengthAdjust="spacingAndGlyphs">×</text>
<text x="1122.30" y="102.95" font-size="36.08" textLength="33.05" lengthAdjust="spacingAndGlyphs">10</text>
<text x="1155.35" y="91.62" font-size="24.50" textLength="17.56" lengthAdjust="spacingAndGlyphs">−</text>
<text x="1173.05" y="89.80" font-size="25.47" textLength="12.87" lengthAdjust="spacingAndGlyphs">2</text>
<text x="1062.95" y="179.35" font-size="36.08" textLength="17.67" lengthAdjust="spacingAndGlyphs">3</text>
<text x="1089.70" y="184.90" font-size="44.72" textLength="24.36" lengthAdjust="spacingAndGlyphs">×</text>
<text x="1122.30" y="179.35" font-size="36.08" textLength="33.05" lengthAdjust="spacingAndGlyphs">10</text>
<text x="1155.35" y="168.03" font-size="24.50" textLength="17.56" lengthAdjust="spacingAndGlyphs">−</text>
<text x="1173.05" y="166.20" font-size="25.47" textLength="12.87" lengthAdjust="spacingAndGlyphs">2</text>
<text x="1062.95" y="287.50" font-size="36.48" textLength="18.50" lengthAdjust="spacingAndGlyphs">2</text>
<text x="1089.70" y="292.80" font-size="44.72" textLength="24.36" lengthAdjust="spacingAndGlyphs">×</text>
<text x="1122.30" y="287.25" font-size="36.08" textLength="33.05" lengthAdjust="spacingAndGlyphs">10</text>
<text x="1155.35" y="275.92" font-size="24.50" textLength="17.56" lengthAdjust="spacingAndGlyphs">−</text>
<text x="1173.05" y="274.10" font-size="25.47" textLength="12.87" lengthAdjust="spacingAndGlyphs">2</text>
<text x="1516.10" y="583.80" font-size="35.01" textLength="88.66" lengthAdjust="spacingAndGlyphs">Epoch</text>
<text x="1462.05" y="245.80" font-size="35.69" textLength="90.03" lengthAdjust="spacingAndGlyphs">0.0095</text>
<text x="1462.05" y="301.30" font-size="35.69" textLength="90.03" lengthAdjust="spacingAndGlyphs">0.0090</text>
<text x="1576.05" y="358.05" font-size="35.33" textLength="48.31" lengthAdjust="spacingAndGlyphs">480</text>
<text x="1755.70" y="358.05" font-size="35.33" textLength="49.11" lengthAdjust="spacingAndGlyphs">500</text>
<text x="1779.60" y="81.55" font-size="29.82" textLength="64.80" lengthAdjust="spacingAndGlyphs">SPEL</text>
<text x="1779.85" y="118.75" font-size="29.09" textLength="125.61" lengthAdjust="spacingAndGlyphs">SPEL-KAN</text>
<text x="1781.45" y="156.55" font-size="29.48" textLength="117.20" lengthAdjust="spacingAndGlyphs">PHNODEs</text>
<text transform="translate(1053.55,338.15) rotate(-90)" font-size="34.45" textLength="120.27" lengthAdjust="spacingAndGlyphs">Test loss</text>
<line x1="509.4" y1="307.0" x2="831.2" y2="466.5" stroke="#1a1a1a" stroke-width="1.35" />
<line x1="744.9" y1="307.0" x2="866.9" y2="466.5" stroke="#1a1a1a" stroke-width="1.35" />
<line x1="1562.7" y1="324.3" x2="1864.8" y2="457.0" stroke="#1a1a1a" stroke-width="1.35" />
<line x1="1783.9" y1="324.3" x2="1897.8" y2="457.0" stroke="#1a1a1a" stroke-width="1.35" />
</svg>
</body></html>
